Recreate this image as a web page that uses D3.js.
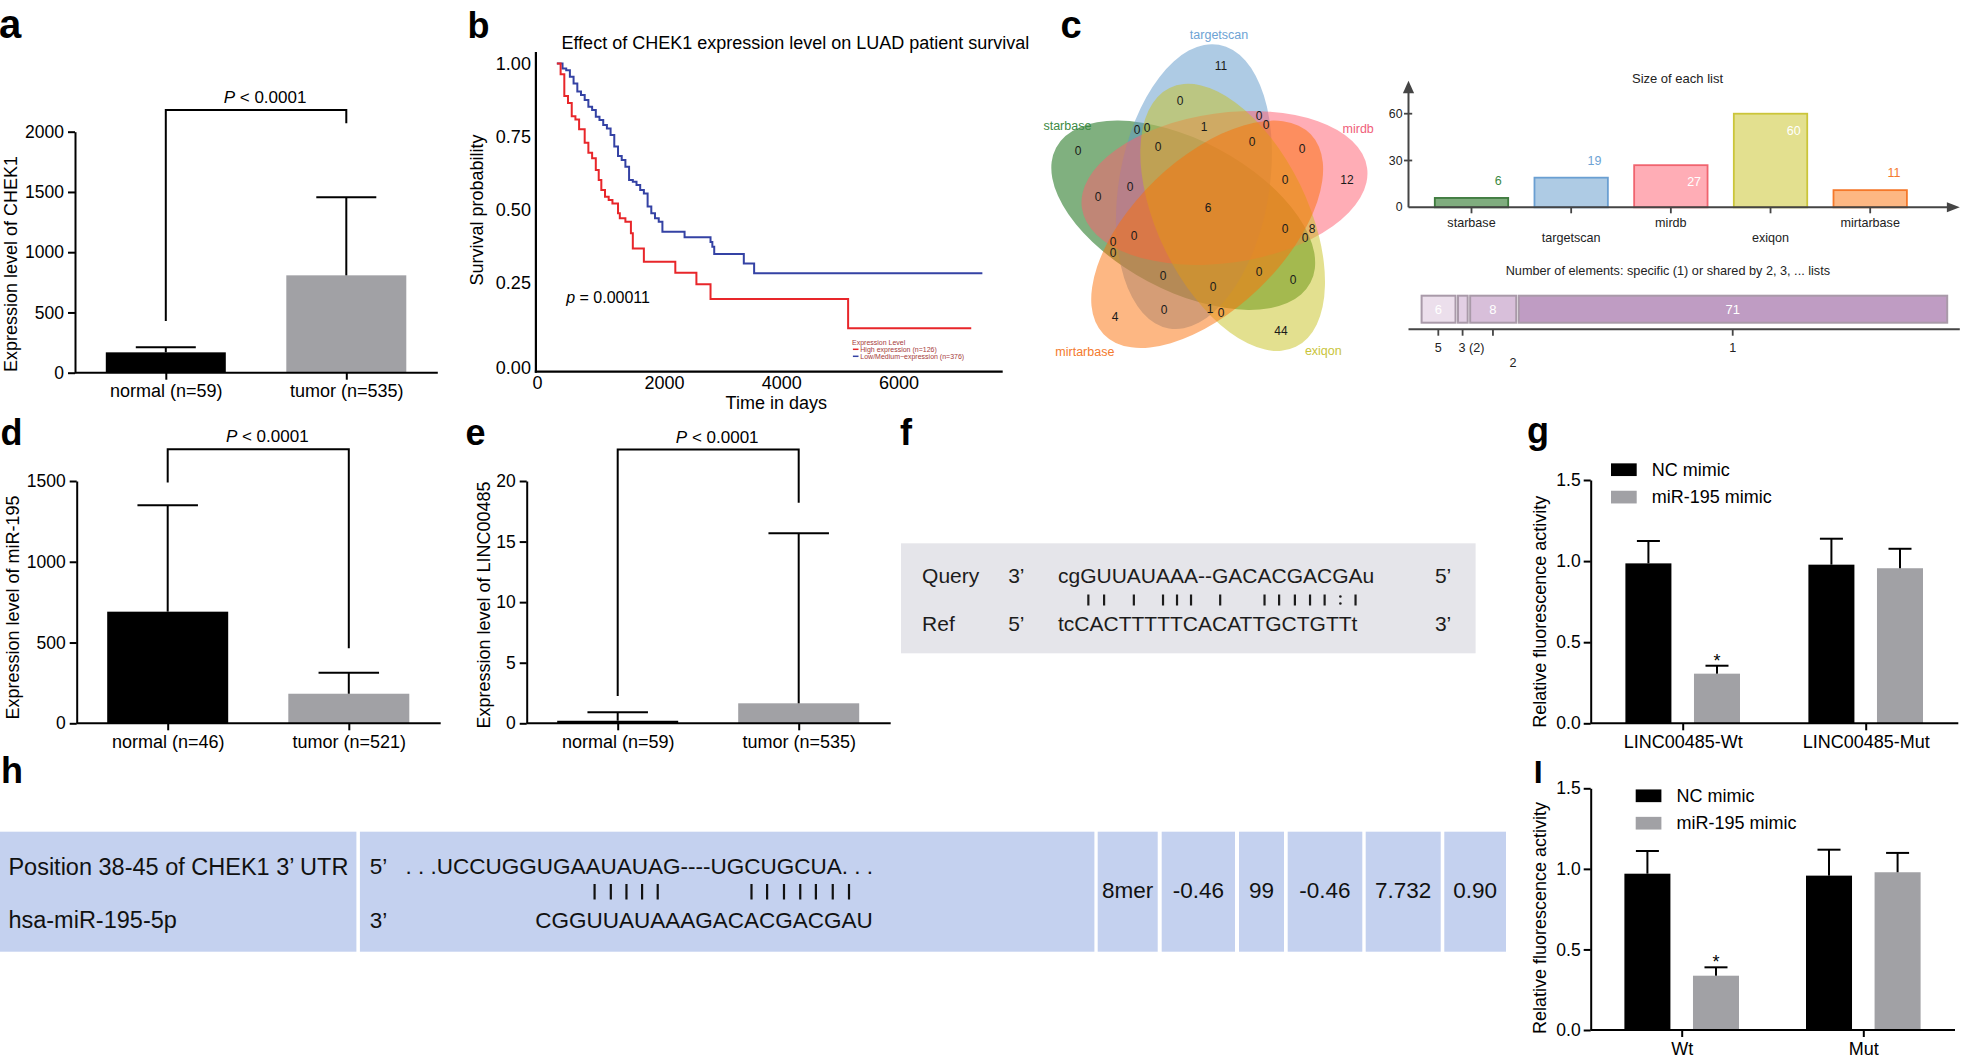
<!DOCTYPE html>
<html>
<head>
<meta charset="utf-8">
<script src="https://cdn.jsdelivr.net/npm/d3@7/dist/d3.min.js"></script>
<style>
html,body{margin:0;padding:0;background:#fff;}
svg{display:block;}
text{font-family:"Liberation Sans",Arial,Helvetica,sans-serif;}
</style>
</head>
<body>
<svg id="fig" width="1961" height="1062" viewBox="0 0 1961 1062"></svg>
<script>
// ======================= DATA =======================
// (a) CHEK1 expression
const aCategories = ["normal (n=59)", "tumor (n=535)"];
const aMean = [169, 808];
const aErrUpper = [211, 1456];
const aTicks = [0, 500, 1000, 1500, 2000];
const aSig = [429, 2070, 2180];           // left leg end, right leg end, bracket level

// (b) Kaplan-Meier
const bTitle = "Effect of CHEK1 expression level on LUAD patient survival";
const bHighTime = [313,372,430,488,547,605,663,751,809,868,926,972,1013,1071,1129,1188,1276,1304,1392,1479,1509,1683,2193,2553,2794,5142,7243];
const bHighSurv = [1.000,0.963,0.889,0.865,0.820,0.809,0.775,0.729,0.695,0.676,0.636,0.602,0.568,0.545,0.534,0.522,0.488,0.471,0.459,0.420,0.368,0.323,0.285,0.246,0.203,0.117,0.117];
const bLowTime = [313,402,460,518,576,635,693,751,809,868,926,984,1043,1101,1159,1217,1276,1334,1392,1450,1509,1567,1625,1683,1742,1800,1858,1917,1975,2351,2794,2825,2857,3362,3538,7433];
const bLowSurv = [1.000,0.983,0.977,0.955,0.932,0.904,0.892,0.875,0.852,0.841,0.818,0.807,0.790,0.778,0.756,0.716,0.684,0.670,0.647,0.602,0.596,0.585,0.568,0.556,0.511,0.488,0.471,0.459,0.425,0.406,0.390,0.374,0.349,0.317,0.283,0.283];
const bXTicks = [0, 2000, 4000, 6000];
const bYTicks = [0, 0.25, 0.5, 0.75, 1];
const bLegend = ["High expression (n=126)", "Low/Medium\u2212expression (n=376)"];

// (c) Venn
const vennSets = ["starbase", "targetscan", "mirdb", "exiqon", "mirtarbase"];
const vennRing = ["targetscan", "mirdb", "exiqon", "mirtarbase", "starbase"];
const vennFill = ["#016100", "#5d97c9", "#ff5b6d", "#c7c11f", "#fb6f07"];
const vennTextColor = ["#3c8a43", "#6ea3d4", "#f0607a", "#c9c43a", "#f47a2d"];
const barFill = ["#7fad7e", "#aecbe4", "#ffadb6", "#e3e08f", "#fdb783"];
const barStroke = ["#3d7a3d", "#6a9fd2", "#f0646f", "#cbc53a", "#f5782a"];
const vennRegionSets = [["targetscan"], ["mirdb"], ["exiqon"], ["mirtarbase"],
  ["starbase","targetscan","mirdb","exiqon","mirtarbase"], ["mirdb","exiqon"],
  ["targetscan","mirdb","exiqon"], ["targetscan","exiqon","mirtarbase"]];
const vennRegionCounts = [11, 12, 44, 4, 6, 8, 1, 1];
const listTicks = [0, 30, 60];
const levelFill = {5:"#ecdfec", 4:"#e6d6e7", 3:"#e2cfe4", 2:"#d8bfda", 1:"#bf9cc3"};

// (d) miR-195 expression
const dCategories = ["normal (n=46)", "tumor (n=521)"];
const dMean = [691, 183];
const dErrUpper = [1350, 313];
const dTicks = [0, 500, 1000, 1500];
const dSig = [1490, 464, 1696];

// (e) LINC00485 expression
const eCategories = ["normal (n=59)", "tumor (n=535)"];
const eMean = [0.21, 1.65];
const eErrUpper = [0.91, 15.68];
const eTicks = [0, 5, 10, 15, 20];
const eSig = [2.25, 18.2, 22.6];

// (f) alignment
const fQuery = "cgGUUAUAAA--GACACGACGAu";
const fRef = "tcCACTTTTTCACATTGCTGTTt";

// (g) luciferase LINC00485
const lucSeries = ["NC mimic", "miR-195 mimic"];
const gGroups = ["LINC00485-Wt", "LINC00485-Mut"];
const gNC = [0.986, 0.978], gNCErr = [1.124, 1.138];
const gMiR = [0.306, 0.956], gMiRErr = [0.355, 1.076];
const gStar = [true, false];
// (i) luciferase CHEK1
const iGroups = ["Wt", "Mut"];
const iNC = [0.970, 0.958], iNCErr = [1.111, 1.119];
const iMiR = [0.337, 0.979], iMiRErr = [0.389, 1.099];
const iStar = [true, false];
const lucTicks = [0, 0.5, 1.0, 1.5];

// (h) TargetScan table
const hTargetLabel = "Position 38-45 of CHEK1 3\u2019 UTR";
const hMirLabel = "hsa-miR-195-5p";
const hTargetSeq = ". . .UCCUGGUGAAUAUAG----UGCUGCUA. . .";
const hMirSeq = "CGGUUAUAAAGACACGACGAU";
const hPairIdx = [3,4,5,6,7,13,14,15,16,17,18,19];
const hValues = ["8mer", "-0.46", "99", "-0.46", "7.732", "0.90"];

// ======================= DRAW =======================
const svg = d3.select("#fig");
svg.append("rect").attr("width",1961).attr("height",1062).attr("fill","#fff");

function styleAxis(sel, fs) {
  sel.attr("font-family", null).attr("font-size", null);
  sel.selectAll("text").style("font-size", fs + "px").attr("fill", "#000");
  sel.selectAll("line").attr("stroke", "#000").attr("stroke-width", 2);
  sel.selectAll("path.domain").attr("stroke", "#000").attr("stroke-width", 2);
}
function letter(t, x, y, size) {
  svg.append("text").attr("x", x).attr("y", y).style("font-size", size + "px")
    .style("font-weight", "bold").text(t);
}

// ---------- GraphPad style expression panel ----------
function exprPanel(p) {
  const g = svg.append("g");
  const y = d3.scaleLinear().domain([0, p.ticks[p.ticks.length - 1]]).range([p.y0, p.yTop]);
  const x = d3.scalePoint().domain(p.cats).range(p.centers);
  const bw = p.barW;
  g.selectAll("rect.bar").data(p.cats).join("rect").attr("class","bar")
    .attr("x", d => x(d) - bw / 2).attr("width", bw)
    .attr("y", (d, i) => y(p.mean[i])).attr("height", (d, i) => p.y0 - y(p.mean[i]))
    .attr("fill", (d, i) => p.colors[i]);
  g.selectAll("line.err").data(p.cats).join("line").attr("class","err")
    .attr("x1", d => x(d)).attr("x2", d => x(d))
    .attr("y1", (d, i) => y(p.mean[i])).attr("y2", (d, i) => y(p.err[i]))
    .attr("stroke", "#000").attr("stroke-width", 2);
  g.selectAll("line.cap").data(p.cats).join("line").attr("class","cap")
    .attr("x1", d => x(d) - bw / 4).attr("x2", d => x(d) + bw / 4)
    .attr("y1", (d, i) => y(p.err[i])).attr("y2", (d, i) => y(p.err[i]))
    .attr("stroke", "#000").attr("stroke-width", 2);
  const ya = g.append("g").attr("transform", `translate(${p.axisX},0)`)
    .call(d3.axisLeft(y).tickValues(p.ticks).tickSize(7).tickPadding(4).tickSizeOuter(0)
      .tickFormat(d3.format("d")));
  styleAxis(ya, 17.5);
  g.append("line").attr("x1", p.axisX).attr("x2", p.axisEnd).attr("y1", p.y0).attr("y2", p.y0)
    .attr("stroke", "#000").attr("stroke-width", 2);
  const xa = g.append("g").attr("transform", `translate(0,${p.y0})`)
    .call(d3.axisBottom(x).tickSize(7).tickPadding(5));
  xa.select(".domain").remove();
  styleAxis(xa, 18);
  g.append("text").attr("transform", `translate(${p.ylx},${p.yly}) rotate(-90)`)
    .attr("text-anchor", "middle").attr("dominant-baseline", "central")
    .style("font-size", "18px").text(p.ylabel);
  const [l, r, t] = p.sig;
  const cx = p.centers;
  g.append("path").attr("d", `M${cx[0]},${y(l)}V${y(t)}H${cx[1]}V${y(r)}`)
    .attr("fill", "none").attr("stroke", "#000").attr("stroke-width", 2);
  const pt = g.append("text").attr("x", (cx[0] + cx[1]) / 2 + 9).attr("y", y(t) - 7)
    .attr("text-anchor", "middle").style("font-size", "17px");
  pt.append("tspan").style("font-style", "italic").text("P");
  pt.append("tspan").text(" < 0.0001");
}

exprPanel({cats: aCategories, mean: aMean, err: aErrUpper, ticks: aTicks, sig: aSig,
  axisX: 75, axisEnd: 437.8, y0: 372.7, yTop: 131.7, centers: [165.8, 346.3], barW: 120,
  colors: ["#000", "#a1a1a5"], ylabel: "Expression level of CHEK1", ylx: 10.5, yly: 264});
exprPanel({cats: dCategories, mean: dMean, err: dErrUpper, ticks: dTicks, sig: dSig,
  axisX: 76.7, axisEnd: 440.7, y0: 723.3, yTop: 481, centers: [167.7, 348.8], barW: 121,
  colors: ["#000", "#a1a1a5"], ylabel: "Expression level of miR-195", ylx: 12.5, yly: 607.5});
exprPanel({cats: eCategories, mean: eMean, err: eErrUpper, ticks: eTicks, sig: eSig,
  axisX: 526.7, axisEnd: 890.7, y0: 723.3, yTop: 481, centers: [617.7, 798.7], barW: 121,
  colors: ["#000", "#a1a1a5"], ylabel: "Expression level of LINC00485", ylx: 484, yly: 605});

// ---------- (b) Kaplan-Meier ----------
(function () {
  const g = svg.append("g");
  const x = d3.scaleLinear().domain([0, 2000, 6000]).range([537, 664, 898.4]);
  const y = d3.scaleLinear().domain([0, 0.25, 1]).range([368, 283, 63.5]);
  g.append("text").attr("x", 795.4).attr("y", 43.3).attr("text-anchor", "middle")
    .attr("dominant-baseline", "central").style("font-size", "18px").text(bTitle);
  const line = d3.line().x(d => x(d[0])).y(d => y(d[1])).curve(d3.curveStepAfter);
  g.append("path").datum(bLowTime.map((t, i) => [t, bLowSurv[i]])).attr("d", line)
    .attr("fill", "none").attr("stroke", "#3442a4").attr("stroke-width", 2);
  g.append("path").datum(bHighTime.map((t, i) => [t, bHighSurv[i]])).attr("d", line)
    .attr("fill", "none").attr("stroke", "#e8262a").attr("stroke-width", 2);
  g.append("line").attr("x1", 535.9).attr("x2", 535.9).attr("y1", 52).attr("y2", 372.7)
    .attr("stroke", "#000").attr("stroke-width", 2.2);
  g.append("line").attr("x1", 534.8).attr("x2", 1002.7).attr("y1", 371.7).attr("y2", 371.7)
    .attr("stroke", "#000").attr("stroke-width", 2.2);
  const ya = g.append("g").attr("transform", "translate(535.9,0)")
    .call(d3.axisLeft(y).tickValues(bYTicks).tickSize(0).tickPadding(5).tickFormat(d3.format(".2f")));
  ya.select(".domain").remove(); styleAxis(ya, 18);
  const xa = g.append("g").attr("transform", "translate(0,371.7)")
    .call(d3.axisBottom(x).tickValues(bXTicks).tickSize(0).tickPadding(5).tickFormat(d3.format("d")));
  xa.select(".domain").remove(); styleAxis(xa, 18);
  g.append("text").attr("x", 776.3).attr("y", 402.5).attr("text-anchor", "middle")
    .attr("dominant-baseline", "central").style("font-size", "18px").text("Time in days");
  g.append("text").attr("transform", "translate(477.4,210) rotate(-90)").attr("text-anchor", "middle")
    .attr("dominant-baseline", "central").style("font-size", "18px").text("Survival probability");
  const pv = g.append("text").attr("x", 566.2).attr("y", 296.7).attr("dominant-baseline", "central")
    .style("font-size", "16px");
  pv.append("tspan").style("font-style", "italic").text("p");
  pv.append("tspan").text(" = 0.00011");
  // legend
  const lg = g.append("g").style("font-size", "7px");
  lg.append("text").attr("x", 852).attr("y", 342.3).attr("dominant-baseline", "central")
    .attr("fill", "#a63a3a").text("Expression Level");
  const lc = ["#e8262a", "#3442a4"];
  bLegend.forEach((t, i) => {
    const yy = 349.3 + i * 7;
    lg.append("line").attr("x1", 852.9).attr("x2", 858.5).attr("y1", yy).attr("y2", yy)
      .attr("stroke", lc[i]).attr("stroke-width", 1.5);
    lg.append("text").attr("x", 860.3).attr("y", yy).attr("dominant-baseline", "central")
      .attr("fill", "#a63a3a").text(t);
  });
})();

// ---------- (c) Venn ----------
(function () {
  const g = svg.append("g");
  const C = [1208.3, 208.3], D = 26, A = 144, B = 75;
  const labAng = [9.4, 66.3, 145.8, 226, 307.6], labDist = [153.7, 146, 161.3, 170, 146.2];
  const ell = vennRing.map((name, i) => {
    const phi = (-123.5 + 72 * i) * Math.PI / 180;
    const rot = 100 + 72 * i;
    const r = rot * Math.PI / 180;
    return {name, idx: vennSets.indexOf(name), cx: C[0] + D * Math.cos(phi), cy: C[1] + D * Math.sin(phi),
      rot, c: Math.cos(r), s: Math.sin(r), la: labAng[i], ld: labDist[i]};
  });
  const ordered = vennSets.map(s => ell.find(e => e.name === s));
  g.selectAll("ellipse").data(ordered).join("ellipse")
    .attr("cx", d => d.cx).attr("cy", d => d.cy).attr("rx", A).attr("ry", B)
    .attr("transform", d => `rotate(${d.rot},${d.cx},${d.cy})`)
    .attr("fill", d => vennFill[d.idx]).attr("fill-opacity", 0.5);
  // region label positions (pole of inaccessibility on a grid)
  const best = {};
  for (let py = 30; py <= 372; py += 1) {
    for (let px = 1050; px <= 1370; px += 1) {
      let mask = 0, clear = Infinity;
      for (const e of ell) {
        const dx = px - e.cx, dy = py - e.cy;
        const u = dx * e.c + dy * e.s, v = -dx * e.s + dy * e.c;
        const f = u * u / (A * A) + v * v / (B * B);
        if (f <= 1) mask |= (1 << e.idx);
        const gm = 2 * Math.sqrt(u * u / (A ** 4) + v * v / (B ** 4));
        clear = Math.min(clear, Math.abs(f - 1) / Math.max(gm, 1e-9));
      }
      if (mask && (!best[mask] || clear > best[mask].c)) best[mask] = {x: px, y: py, c: clear};
    }
  }
  const countOf = {};
  vennRegionSets.forEach((r, i) => {
    let m = 0; r.forEach(s => m |= (1 << vennSets.indexOf(s))); countOf[m] = vennRegionCounts[i];
  });
  const regions = Object.keys(best).map(k => ({m: +k, x: best[k].x, y: best[k].y}));
  g.selectAll("text.cnt").data(regions).join("text").attr("class", "cnt")
    .attr("x", d => d.x).attr("y", d => d.y).attr("text-anchor", "middle")
    .attr("dominant-baseline", "central").style("font-size", "12px").attr("fill", "#1a1a1a")
    .text(d => countOf[d.m] || 0);
  g.selectAll("text.setlab").data(ell).join("text").attr("class", "setlab")
    .attr("x", d => d.cx + d.ld * Math.sin(d.la * Math.PI / 180))
    .attr("y", d => d.cy - d.ld * Math.cos(d.la * Math.PI / 180))
    .attr("text-anchor", "middle").attr("dominant-baseline", "central")
    .style("font-size", "12.5px").attr("fill", d => vennTextColor[d.idx]).text(d => d.name);

  // --- size of each list ---
  const listSize = vennSets.map(s => d3.sum(vennRegionSets.map((r, i) => r.includes(s) ? vennRegionCounts[i] : 0)));
  const ly = d3.scaleLinear().domain([0, 60]).range([207.3, 113.7]);
  const lx = d3.scalePoint().domain(vennSets).range([1471.5, 1870.2]);
  const lbw = 73.4, ax = 1408.5, ink = "#454545";
  g.append("text").attr("x", 1677.5).attr("y", 78.3).attr("text-anchor", "middle")
    .attr("dominant-baseline", "central").style("font-size", "13px").attr("fill", "#222").text("Size of each list");
  g.selectAll("rect.lb").data(vennSets).join("rect").attr("class", "lb")
    .attr("x", d => lx(d) - lbw / 2).attr("width", lbw)
    .attr("y", (d, i) => ly(listSize[i])).attr("height", (d, i) => ly(0) - ly(listSize[i]))
    .attr("fill", (d, i) => barFill[i]).attr("stroke", (d, i) => barStroke[i]).attr("stroke-width", 1.8);
  g.selectAll("text.lv").data(vennSets).join("text").attr("class", "lv")
    .attr("x", d => lx(d) + lbw / 2 - 6.5)
    .attr("y", (d, i) => listSize[i] >= 20 ? ly(listSize[i]) + 17 : ly(listSize[i]) - 17)
    .attr("text-anchor", "end").attr("dominant-baseline", "central").style("font-size", "12.5px")
    .attr("fill", (d, i) => listSize[i] >= 20 ? "#fff" : vennTextColor[i]).text((d, i) => listSize[i]);
  g.append("line").attr("x1", ax).attr("x2", ax).attr("y1", ly(0)).attr("y2", 92).attr("stroke", ink).attr("stroke-width", 2);
  g.append("path").attr("d", `M${ax - 5.6},93.3L${ax + 5.6},93.3L${ax},80.7Z`).attr("fill", ink);
  g.append("line").attr("x1", ax).attr("x2", 1947).attr("y1", ly(0)).attr("y2", ly(0)).attr("stroke", ink).attr("stroke-width", 2);
  g.append("path").attr("d", `M1946.9,${ly(0) - 5}L1946.9,${ly(0) + 5}L1959.8,${ly(0)}Z`).attr("fill", ink);
  g.selectAll("line.lyt").data(listTicks.filter(t => t > 0)).join("line").attr("class", "lyt")
    .attr("x1", ax - 4.5).attr("x2", ax + 3.7).attr("y1", d => ly(d)).attr("y2", d => ly(d))
    .attr("stroke", ink).attr("stroke-width", 1.8);
  g.selectAll("text.lyl").data(listTicks).join("text").attr("class", "lyl")
    .attr("x", ax - 6).attr("y", d => ly(d)).attr("text-anchor", "end").attr("dominant-baseline", "central")
    .style("font-size", "12.3px").attr("fill", "#222").text(d => d);
  g.selectAll("line.lxt").data(vennSets).join("line").attr("class", "lxt")
    .attr("x1", d => lx(d)).attr("x2", d => lx(d)).attr("y1", ly(0)).attr("y2", ly(0) + 6)
    .attr("stroke", ink).attr("stroke-width", 1.8);
  g.selectAll("text.lxl").data(vennSets).join("text").attr("class", "lxl")
    .attr("x", d => lx(d)).attr("y", (d, i) => ly(0) + (i % 2 ? 30.4 : 16))
    .attr("text-anchor", "middle").attr("dominant-baseline", "central")
    .style("font-size", "12.6px").attr("fill", "#222").text(d => d);

  // --- shared-by levels ---
  const levels = [5, 4, 3, 2, 1];
  const levelCounts = levels.map(k => d3.sum(vennRegionSets.map((r, i) => r.length === k ? vennRegionCounts[i] : 0)));
  const sx = d3.scaleLinear().domain([0, d3.sum(levelCounts)]).range([1421.1, 1949.2]);
  let cum = 0;
  const segs = [];
  levels.forEach((k, i) => {
    if (levelCounts[i] > 0) segs.push({k, n: levelCounts[i], a: cum, b: cum + levelCounts[i]});
    cum += levelCounts[i];
  });
  g.append("text").attr("x", 1667.9).attr("y", 270.7).attr("text-anchor", "middle")
    .attr("dominant-baseline", "central").style("font-size", "12.7px").attr("fill", "#222")
    .text("Number of elements: specific (1) or shared by 2, 3, ... lists");
  const sy0 = 295.7, sh = 27;
  g.selectAll("rect.seg").data(segs).join("rect").attr("class", "seg")
    .attr("x", d => sx(d.a) + 0.5).attr("width", d => sx(d.b) - sx(d.a) - 2.5)
    .attr("y", sy0).attr("height", sh).attr("fill", d => levelFill[d.k])
    .attr("stroke", "#a99aa9").attr("stroke-width", 2);
  g.selectAll("text.segn").data(segs.filter(d => sx(d.b) - sx(d.a) > 16)).join("text").attr("class", "segn")
    .attr("x", d => (sx(d.a) + sx(d.b)) / 2 - 1).attr("y", sy0 + sh / 2).attr("text-anchor", "middle")
    .attr("dominant-baseline", "central").style("font-size", "13px").attr("fill", "#fff").text(d => d.n);
  g.append("line").attr("x1", ax).attr("x2", 1959.8).attr("y1", 329.3).attr("y2", 329.3).attr("stroke", ink).attr("stroke-width", 2);
  g.selectAll("line.st").data(segs).join("line").attr("class", "st")
    .attr("x1", d => (sx(d.a) + sx(d.b)) / 2 - 1).attr("x2", d => (sx(d.a) + sx(d.b)) / 2 - 1)
    .attr("y1", 329.3).attr("y2", 335.7).attr("stroke", ink).attr("stroke-width", 1.8);
  segs.forEach((d, i) => {
    const cxs = (sx(d.a) + sx(d.b)) / 2 - 1;
    const narrow = sx(d.b) - sx(d.a) <= 16;
    const prevNarrow = i > 0 && (sx(segs[i - 1].b) - sx(segs[i - 1].a) <= 16);
    g.append("text").attr("x", narrow ? cxs - 4 : (prevNarrow ? cxs + 20 : cxs))
      .attr("y", prevNarrow ? 363.3 : 347.7)
      .attr("text-anchor", narrow ? "start" : "middle").attr("dominant-baseline", "central")
      .style("font-size", "12.6px").attr("fill", "#222")
      .text(narrow ? `${d.k} (${d.n})` : d.k);
  });
})();

// ---------- (f) alignment ----------
(function () {
  const g = svg.append("g");
  g.append("rect").attr("x", 901).attr("y", 543.3).attr("width", 574.6).attr("height", 110).attr("fill", "#e5e5ea");
  const fs = "21px", col = "#1c1c1c";
  const put = (x, y, t) => g.append("text").attr("x", x).attr("y", y).attr("dominant-baseline", "central")
    .style("font-size", fs).attr("fill", col).text(t);
  put(922.1, 575, "Query"); put(1008.2, 575, "3\u2019"); put(1434.9, 575, "5\u2019");
  put(922.1, 623.3, "Ref"); put(1008.2, 623.3, "5\u2019"); put(1434.9, 623.3, "3\u2019");
  const q = put(1058, 575, fQuery);
  put(1058, 623.3, fRef);
  const node = q.node();
  const norm = c => c === "T" ? "U" : c;
  const sym = (a, b) => {
    if (a === a.toLowerCase() || b === b.toLowerCase()) return " ";
    const p = norm(a) + norm(b);
    if (["AU", "UA", "GC", "CG"].includes(p)) return "|";
    if (["GU", "UG"].includes(p)) return ":";
    return " ";
  };
  const marks = [];
  for (let i = 0; i < fQuery.length; i++) {
    const s = sym(fQuery[i], fRef[i]);
    if (s !== " ") {
      const cx = (node.getStartPositionOfChar(i).x + node.getEndPositionOfChar(i).x) / 2;
      marks.push({s, cx});
    }
  }
  g.selectAll("line.pair").data(marks.filter(d => d.s === "|")).join("line").attr("class", "pair")
    .attr("x1", d => d.cx).attr("x2", d => d.cx).attr("y1", 594.5).attr("y2", 605.5)
    .attr("stroke", col).attr("stroke-width", 2.2);
  marks.filter(d => d.s === ":").forEach(d => {
    [596.5, 603.5].forEach(yy => g.append("circle").attr("cx", d.cx).attr("cy", yy).attr("r", 1.3).attr("fill", col));
  });
})();

// ---------- (g) & (i) luciferase ----------
function lucPanel(p) {
  const g = svg.append("g");
  const y = d3.scaleLinear().domain([0, 1.5]).range([p.y0, p.yTop]);
  const x0 = d3.scaleBand().domain(p.groups).range(p.xRange);
  const x1 = d3.scaleBand().domain(lucSeries).range([-57.3, 57.3]).paddingInner(0.329);
  const bw = x1.bandwidth();
  const cols = ["#000", "#a1a1a5"];
  const rows = [];
  p.groups.forEach((gr, gi) => {
    rows.push({gr, s: lucSeries[0], v: p.nc[gi], e: p.ncErr[gi], c: cols[0], star: false});
    rows.push({gr, s: lucSeries[1], v: p.mir[gi], e: p.mirErr[gi], c: cols[1], star: p.star[gi]});
  });
  const bx = d => x0(d.gr) + x0.bandwidth() / 2 + x1(d.s);
  g.selectAll("rect").data(rows).join("rect").attr("x", bx).attr("width", bw)
    .attr("y", d => y(d.v)).attr("height", d => p.y0 - y(d.v)).attr("fill", d => d.c);
  g.selectAll("line.e").data(rows).join("line").attr("class", "e")
    .attr("x1", d => bx(d) + bw / 2).attr("x2", d => bx(d) + bw / 2)
    .attr("y1", d => y(d.v)).attr("y2", d => y(d.e)).attr("stroke", "#000").attr("stroke-width", 2);
  g.selectAll("line.c").data(rows).join("line").attr("class", "c")
    .attr("x1", d => bx(d) + bw / 4).attr("x2", d => bx(d) + bw * 3 / 4)
    .attr("y1", d => y(d.e)).attr("y2", d => y(d.e)).attr("stroke", "#000").attr("stroke-width", 2);
  g.selectAll("text.star").data(rows.filter(d => d.star)).join("text").attr("class", "star")
    .attr("x", d => bx(d) + bw / 2).attr("y", d => y(d.e) + 1).attr("text-anchor", "middle")
    .style("font-size", "18px").text("*");
  const ya = g.append("g").attr("transform", `translate(${p.axisX},0)`)
    .call(d3.axisLeft(y).tickValues(lucTicks).tickSize(7).tickPadding(3).tickSizeOuter(0).tickFormat(d3.format(".1f")));
  styleAxis(ya, 17.5);
  g.append("line").attr("x1", p.axisX).attr("x2", p.axisEnd).attr("y1", p.y0).attr("y2", p.y0)
    .attr("stroke", "#000").attr("stroke-width", 2);
  const xs = d3.scalePoint().domain(p.groups).range([x0(p.groups[0]) + x0.bandwidth() / 2, x0(p.groups[1]) + x0.bandwidth() / 2]);
  const xa = g.append("g").attr("transform", `translate(0,${p.y0})`).call(d3.axisBottom(xs).tickSize(7).tickPadding(5));
  xa.select(".domain").remove(); styleAxis(xa, 18);
  g.append("text").attr("transform", `translate(${p.ylx},${p.yly}) rotate(-90)`)
    .attr("text-anchor", "middle").attr("dominant-baseline", "central").style("font-size", "18px")
    .text("Relative fluorescence activity");
  lucSeries.forEach((s, i) => {
    const yy = p.legY + i * 27.4;
    g.append("rect").attr("x", p.legX).attr("y", yy - 6.35).attr("width", 25.7).attr("height", 12.7).attr("fill", cols[i]);
    g.append("text").attr("x", p.legX + 40.7).attr("y", yy).attr("dominant-baseline", "central")
      .style("font-size", "18px").text(s);
  });
}
lucPanel({groups: gGroups, nc: gNC, ncErr: gNCErr, mir: gMiR, mirErr: gMiRErr, star: gStar,
  y0: 723.3, yTop: 480, axisX: 1590.7, axisEnd: 1958.3, xRange: [1591.2, 1957.2],
  ylx: 1540, yly: 611.7, legX: 1611, legY: 469.7});
lucPanel({groups: iGroups, nc: iNC, ncErr: iNCErr, mir: iMiR, mirErr: iMiRErr, star: iStar,
  y0: 1030, yTop: 788.3, axisX: 1590.7, axisEnd: 1955, xRange: [1590.9, 1954.1],
  ylx: 1540, yly: 918, legX: 1635.7, legY: 795.8});

// ---------- (h) table ----------
(function () {
  const g = svg.append("g");
  const cells = [[0, 356.4], [359.9, 1094.4], [1097.7, 1157.7], [1161.7, 1235], [1239, 1284],
    [1287.7, 1362.3], [1365.7, 1440.7], [1444.3, 1506]];
  const y0 = 831.7, y1 = 951.7;
  g.selectAll("rect").data(cells).join("rect").attr("x", d => d[0]).attr("width", d => d[1] - d[0])
    .attr("y", y0).attr("height", y1 - y0).attr("fill", "#c4d1ef");
  const col = "#111";
  const put = (x, y, t, fs, anchor) => g.append("text").attr("x", x).attr("y", y)
    .attr("text-anchor", anchor || "start").attr("dominant-baseline", "central")
    .style("font-size", fs + "px").attr("fill", col).text(t);
  put(8.4, 866.7, hTargetLabel, 23.5);
  put(8.4, 920, hMirLabel, 23.5);
  put(369.7, 866.7, "5\u2019", 22.5);
  put(369.7, 920, "3\u2019", 22.5);
  put(405.5, 866.7, hTargetSeq, 22.5);
  const m = put(535.2, 920, hMirSeq, 22.5).node();
  g.selectAll("line.hp").data(hPairIdx).join("line").attr("class", "hp")
    .attr("x1", i => (m.getStartPositionOfChar(i).x + m.getEndPositionOfChar(i).x) / 2)
    .attr("x2", i => (m.getStartPositionOfChar(i).x + m.getEndPositionOfChar(i).x) / 2)
    .attr("y1", 884).attr("y2", 899.5).attr("stroke", col).attr("stroke-width", 2.2);
  hValues.forEach((v, i) => {
    const c = cells[i + 2];
    put((c[0] + c[1]) / 2, 890.7, v, 22.5, "middle");
  });
})();

// ---------- panel letters ----------
letter("a", -1, 38.3, 40);
letter("b", 467.5, 38.3, 36);
letter("c", 1060.5, 38.3, 38);
letter("d", 0.5, 445, 36);
letter("e", 465.5, 445, 36);
letter("f", 900, 445, 36);
letter("g", 1527, 443.3, 36);
letter("h", 1, 783.3, 36);
letter("I", 1533.7, 783.3, 32);
</script>
</body>
</html>
